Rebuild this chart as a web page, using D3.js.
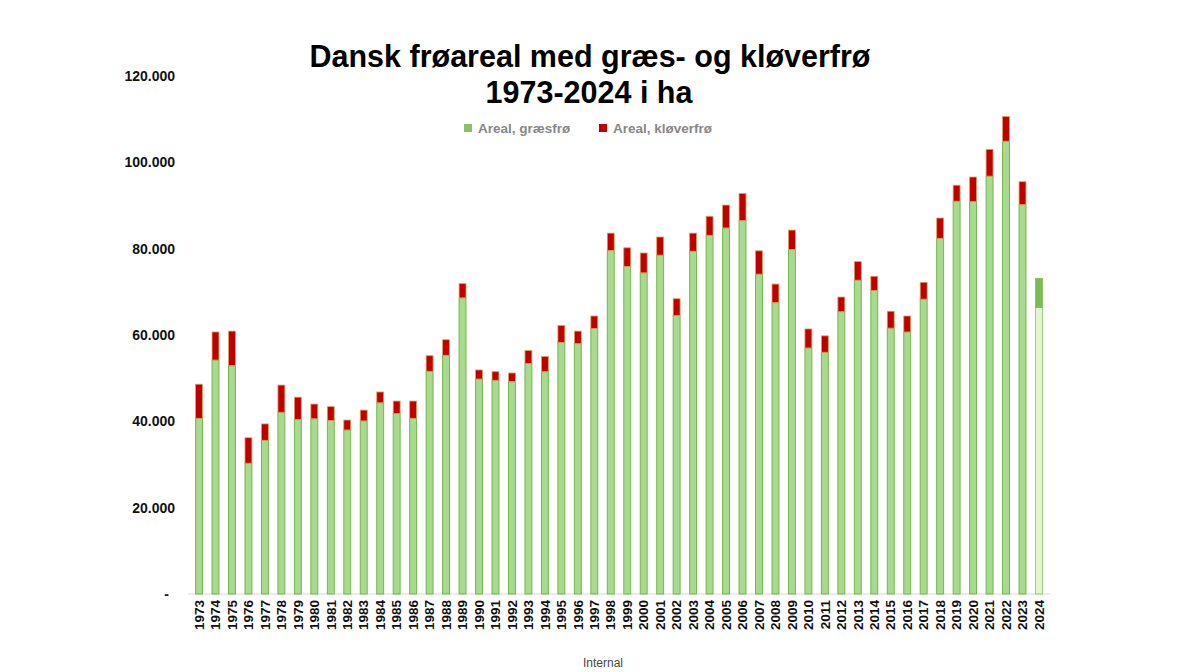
<!DOCTYPE html>
<html>
<head>
<meta charset="utf-8">
<script src="https://cdn.jsdelivr.net/npm/d3@7"></script>
<style>
  body { margin: 0; background: #fff; }
  svg { font-family: "Liberation Sans", Arial, sans-serif; }
</style>
</head>
<body>
<div id="chart"></div>
<script>
// years on the x axis
var years = d3.range(1973, 2025).map(String);

// area with grass seed (ha)
var graesfro = [40700, 54200, 52900, 30300, 35600, 42100, 40400, 40600, 40200, 38000,
  40100, 44300, 41800, 40700, 51600, 55300, 68600, 49800, 49500, 49200,
  53400, 51500, 58300, 58000, 61500, 79600, 75900, 74400, 78500, 64500,
  79400, 83100, 84800, 86500, 74100, 67500, 79800, 57000, 56000, 65400,
  72700, 70300, 61600, 60700, 68300, 82400, 91000, 90900, 96800, 104900,
  90200, 66400];

// area with clover seed (ha)
var kloverfro = [7900, 6500, 8000, 5900, 3800, 6300, 5200, 3400, 3200, 2300,
  2500, 2500, 2900, 4000, 3600, 3600, 3300, 2100, 2000, 2000,
  3000, 3500, 3900, 2900, 2900, 4000, 4300, 4600, 4200, 3900,
  4200, 4400, 5300, 6300, 5400, 4300, 4500, 4400, 3800, 3400,
  4300, 3300, 3900, 3700, 3900, 4700, 3700, 5700, 6200, 5700,
  5300, 6700];

var yTicks = [0, 20000, 40000, 60000, 80000, 100000, 120000];
var seriesNames = ["Areal, græsfrø", "Areal, kløverfrø"];

var width = 1200, height = 672;

var svg = d3.select("#chart")
    .append("svg")
    .attr("width", width)
    .attr("height", height);

var x = d3.scaleBand()
    .domain(years)
    .range([190.8, 1047.2])
    .paddingInner(0.58)
    .paddingOuter(0.29);

var y = d3.scaleLinear()
    .domain([0, 120000])
    .range([594, 76]);

// title
svg.append("text")
    .attr("x", 590).attr("y", 67)
    .attr("text-anchor", "middle")
    .style("font-size", "30.5px").style("font-weight", "bold")
    .text("Dansk frøareal med græs- og kløverfrø");
svg.append("text")
    .attr("x", 589).attr("y", 103)
    .attr("text-anchor", "middle")
    .style("font-size", "30.5px").style("font-weight", "bold")
    .text("1973-2024 i ha");

// legend
var legendColors = ["#8cc068", "#c00000"];
var legendX = [464, 599];
seriesNames.forEach(function(name, i) {
    svg.append("rect")
        .attr("x", legendX[i]).attr("y", 124)
        .attr("width", 8).attr("height", 8)
        .attr("fill", legendColors[i]);
    svg.append("text")
        .attr("x", legendX[i] + 14).attr("y", 133)
        .style("font-size", "13.5px").style("font-weight", "bold")
        .attr("fill", "#888")
        .text(name);
});

// y axis
var yAxis = d3.axisLeft(y)
    .tickValues(yTicks)
    .tickSize(0)
    .tickPadding(0)
    .tickFormat(function(d) { return d === 0 ? "-" : d3.format(",")(d).replace(/,/g, "."); });

var gy = svg.append("g")
    .attr("transform", "translate(175,0)")
    .call(yAxis);
gy.select(".domain").remove();
gy.selectAll("text")
    .style("font-size", "14px").style("font-weight", "bold")
    .attr("fill", "#111")
    .attr("font-family", "Liberation Sans, Arial, sans-serif");
gy.selectAll(".tick").filter(function(d) { return d === 0; })
    .select("text").attr("dx", "-6");

// baseline
svg.append("line")
    .attr("x1", 188).attr("x2", 1050)
    .attr("y1", y(0)).attr("y2", y(0))
    .attr("stroke", "#d9d9d9").attr("stroke-width", 1);

// bars
var data = years.map(function(yr, i) {
    return { year: yr, g: graesfro[i], k: kloverfro[i], last: yr === "2024" };
});

var bars = svg.append("g").selectAll("g")
    .data(data)
    .enter()
    .append("g");

bars.append("rect")
    .attr("x", d => x(d.year))
    .attr("y", d => y(d.g))
    .attr("width", x.bandwidth())
    .attr("height", d => y(0) - y(d.g))
    .attr("fill", d => d.last ? "#e3f5cf" : "#a9d98e")
    .attr("stroke", d => d.last ? "#9ccf7c" : "#74b74a")
    .attr("stroke-width", 1);

bars.append("rect")
    .attr("x", d => x(d.year))
    .attr("y", d => y(d.g + d.k))
    .attr("width", x.bandwidth())
    .attr("height", d => y(d.g) - y(d.g + d.k))
    .attr("fill", d => d.last ? "#7dbb55" : "#c00000")
    .attr("stroke", d => d.last ? "#7dbb55" : "#d9a25f")
    .attr("stroke-width", 0.8);

// x axis
var xAxis = d3.axisBottom(x).tickSize(0).tickPadding(0);
var gx = svg.append("g")
    .attr("transform", "translate(0," + y(0) + ")")
    .call(xAxis);
gx.select(".domain").remove();
gx.selectAll("text")
    .attr("transform", "rotate(-90)")
    .attr("x", -6).attr("y", 0)
    .attr("dy", "0.35em")
    .attr("text-anchor", "end")
    .attr("fill", "#111")
    .attr("font-family", "Liberation Sans, Arial, sans-serif")
    .style("font-size", "13.5px").style("font-weight", "bold");

// footer
svg.append("text")
    .attr("x", 603).attr("y", 667)
    .attr("text-anchor", "middle")
    .style("font-size", "12px")
    .attr("fill", "#444")
    .text("Internal");
</script>
</body>
</html>
